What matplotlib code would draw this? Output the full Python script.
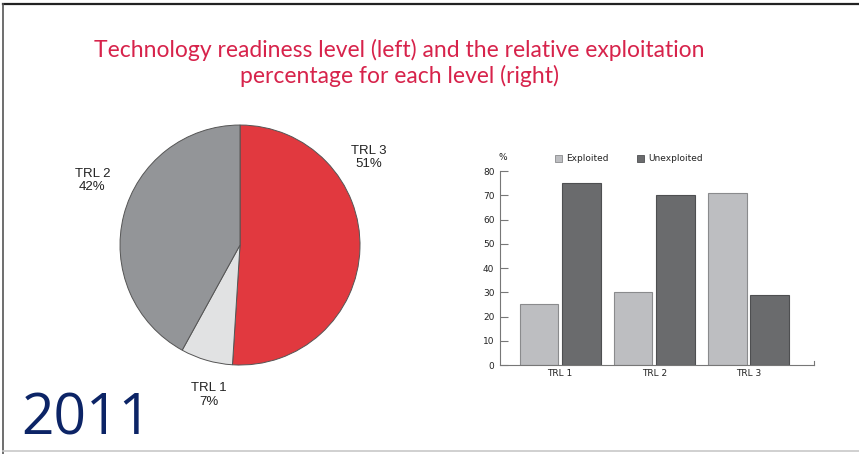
import matplotlib
matplotlib.use("Agg")
import matplotlib.pyplot as plt
from matplotlib.lines import Line2D
from matplotlib.patches import Rectangle
import numpy as np

# pie: share of projects per readiness level
pie_labels = ["TRL 3", "TRL 1", "TRL 2"]
pie_values = [51, 7, 42]
pie_colors = ["#e1393f", "#e1e2e3", "#939598"]
# label anchor points (pie data units)
pie_label_pos = [(1.07, 0.73), (-0.26, -1.25), (-1.23, 0.54)]

# bars: exploitation share per level
levels = ["TRL 1", "TRL 2", "TRL 3"]
exploited = [25, 30, 71]
unexploited = [75, 70, 29]

fig = plt.figure(figsize=(8.59, 4.54), dpi=100)
fig.patch.set_facecolor("white")

# frame around the slide
fig.add_artist(Line2D([0.0035, 1.0], [0.991, 0.991], color="#222222", lw=1.6))
fig.add_artist(Line2D([0.0035, 0.0035], [0.0, 0.991], color="#555555", lw=1.2))
fig.add_artist(Line2D([0.0035, 1.0], [0.006, 0.006], color="#c8c8c8", lw=1.2))

fig.text(0.465, 0.862, "Technology readiness level (left) and the relative exploitation\n"
         "percentage for each level (right)", ha="center", va="center",
         color="#d7234b", fontsize=16.5, family="Lato", linespacing=1.2)

fig.text(0.025, 0.074, "2011", color="#0c2466", fontsize=41, family="Open Sans",
         ha="left", va="center")

# ---- pie ----
ax1 = fig.add_axes([0.1397, 0.196, 0.2794, 0.5286])
wedges, _ = ax1.pie(pie_values, colors=pie_colors, startangle=90, counterclock=False,
                    radius=1.0, wedgeprops=dict(edgecolor="#555555", linewidth=0.7))
ax1.set_xlim(-1, 1)
ax1.set_ylim(-1, 1)
ax1.set_aspect("equal")
for lab, val, (x, y) in zip(pie_labels, pie_values, pie_label_pos):
    ax1.text(x, y, "%s\n%d%%" % (lab, val), ha="center", va="center", fontsize=9.5,
             family="Liberation Sans", color="#222222", linespacing=1.15, clip_on=False)

# ---- bars ----
ax2 = fig.add_axes([0.582, 0.196, 0.366, 0.427])
x = np.arange(len(levels))
w = 0.41
ax2.bar(x - 0.225, exploited, w, color="#bdbec1", edgecolor="#8a8b8d", linewidth=0.8)
ax2.bar(x + 0.225, unexploited, w, color="#6a6b6d", edgecolor="#4e4f51", linewidth=0.8)
ax2.set_xlim(-0.64, 2.70)
ax2.set_ylim(0, 80)
ax2.set_yticks(range(0, 81, 10))
ax2.set_xticks(x)
ax2.set_xticklabels(levels)
for s in ["top", "right"]:
    ax2.spines[s].set_visible(False)
ax2.spines["left"].set_color("#777777")
ax2.spines["bottom"].set_color("#777777")
ax2.spines["left"].set_linewidth(0.8)
ax2.spines["bottom"].set_linewidth(0.8)
ax2.tick_params(axis="y", direction="in", length=6, width=0.8, color="#777777",
                labelsize=6.5, pad=4, labelcolor="#222222")
ax2.tick_params(axis="x", length=0, labelsize=6.5, pad=3, labelcolor="#222222")
# small end tick on the base line
ax2.plot([2.70, 2.70], [0, 1.6], color="#777777", lw=0.8, clip_on=False)
ax2.text(0.01, 1.045, "%", transform=ax2.transAxes, fontsize=6.5, ha="center",
         va="bottom", color="#222222")

# legend squares above the plot
for lx, lab, fc, ec in [(0.175, "Exploited", "#bdbec1", "#8a8b8d"),
                        (0.436, "Unexploited", "#6a6b6d", "#4e4f51")]:
    ax2.add_patch(Rectangle((lx, 1.045), 0.022, 0.037, transform=ax2.transAxes,
                            facecolor=fc, edgecolor=ec, lw=0.6, clip_on=False))
    ax2.text(lx + 0.037, 1.063, lab, transform=ax2.transAxes, fontsize=6.5,
             va="center", ha="left", color="#222222")

fig.savefig("out.png", dpi=100)
